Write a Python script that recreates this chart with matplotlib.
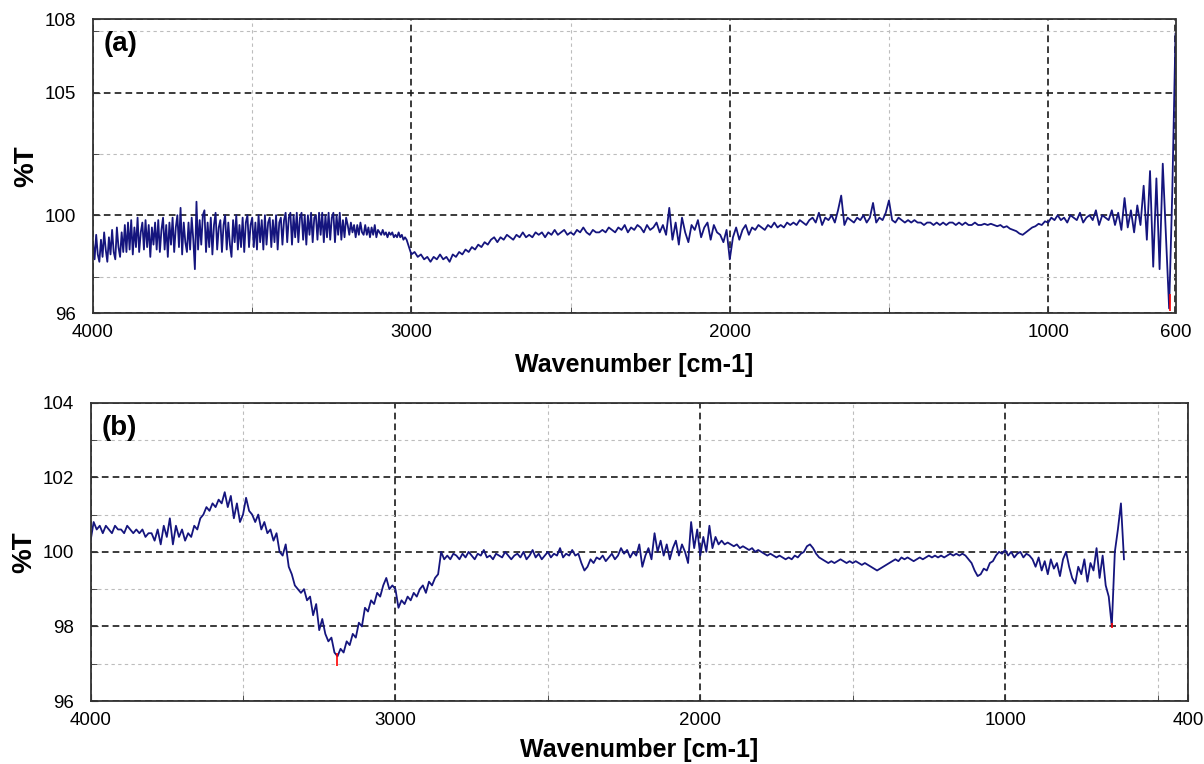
import numpy as np
import matplotlib
matplotlib.use("Agg")
import matplotlib.pyplot as plt
from matplotlib.ticker import FixedLocator

plt.rcParams["font.family"] = ["Liberation Sans", "DejaVu Sans"]

# %% spectrum (a): 4000 -> 3005 read every 5 cm-1, 3000 -> 600 every 10 cm-1
wn_a = np.concatenate([np.arange(4000, 3000, -5), np.arange(3000, 599, -10)])
T_a = [
    # 4000 - 3005 (noisy band)
    98.9, 98.2, 99.2, 98.4, 98.1, 99.0, 98.3, 99.3, 98.6, 98.1, 99.1, 98.4, 99.4, 98.5, 98.2, 99.5, 98.7, 98.3, 99.3, 98.5,
    99.6, 98.5, 99.7, 98.6, 99.8, 98.4, 99.5, 98.7, 99.9, 98.5, 99.3, 99.7, 98.6, 99.8, 98.7, 99.6, 98.3, 99.5, 98.8, 99.7,
    98.6, 99.8, 98.5, 99.4, 99.9, 98.6, 99.6, 98.3, 99.7, 98.8, 99.9, 98.5, 99.5, 100.0, 98.7, 100.3, 98.4, 99.7, 98.9, 98.5,
    99.7, 98.6, 99.9, 99.0, 97.8, 100.55, 98.6, 99.8, 98.8, 100.0, 100.2, 98.5, 99.7, 98.7, 99.9, 98.4, 99.6, 100.1, 98.6, 99.5,
    99.8, 98.5, 99.6, 100.0, 98.6, 99.7, 98.8, 98.3, 99.8, 98.9, 100.0, 98.6, 99.6, 98.7, 99.9, 98.5, 99.7, 100.0, 98.7, 99.6,
    99.9, 98.7, 99.7, 98.6, 100.0, 98.9, 99.8, 98.6, 100.0, 98.8, 99.7, 99.9, 98.7, 99.8, 98.9, 100.0, 98.6, 99.7, 99.9, 98.8,
    99.8, 100.1, 98.9, 99.9, 100.1, 98.8, 100.0, 99.1, 100.1, 98.9, 99.9, 100.1, 99.0, 100.0, 98.8, 100.0, 99.2, 100.1, 98.9, 99.9,
    100.0, 99.0, 100.1, 99.2, 100.1, 98.9, 100.0, 99.1, 100.1, 99.0, 99.9, 100.1, 98.9, 100.0, 99.2, 100.1, 99.0, 99.8, 99.1, 99.9,
    99.6, 99.2, 99.7, 99.3, 99.6, 99.1, 99.6, 99.2, 99.7, 99.3, 99.2, 99.6, 99.2, 99.5, 99.1, 99.5, 99.2, 99.6, 99.1, 99.4,
    99.3, 99.2, 99.4, 99.2, 99.3, 99.1, 99.3, 99.2, 99.3, 99.1, 99.2, 99.1, 99.3, 99.1, 99.2, 99.0, 99.1, 99.0, 98.8, 98.6,
    # 3000 - 600
    98.4, 98.5, 98.3, 98.4, 98.2, 98.3, 98.1, 98.3, 98.2, 98.4, 98.2, 98.3, 98.1, 98.4, 98.3, 98.5, 98.4, 98.6, 98.5, 98.7,
    98.6, 98.8, 98.7, 98.9, 98.8, 99.0, 99.1, 98.9, 99.1, 99.0, 99.2, 99.1, 99.0, 99.2, 99.1, 99.3, 99.1, 99.2, 99.1, 99.3,
    99.2, 99.3, 99.1, 99.3, 99.2, 99.4, 99.2, 99.3, 99.4, 99.2, 99.3, 99.2, 99.4, 99.3, 99.5, 99.3, 99.2, 99.4, 99.3, 99.3,
    99.4, 99.3, 99.5, 99.4, 99.3, 99.5, 99.4, 99.6, 99.3, 99.5, 99.4, 99.6, 99.5, 99.3, 99.6, 99.4, 99.5, 99.7, 99.3, 99.6,
    99.2, 100.3, 99.0, 99.7, 98.8, 99.9, 99.3, 98.9, 99.6, 99.4, 99.8, 99.1, 99.5, 99.7, 99.0, 99.6, 99.3, 99.2, 98.9, 99.4,
    98.2, 99.1, 99.5, 99.0, 99.4, 99.6, 99.2, 99.5, 99.4, 99.6, 99.5, 99.4, 99.6, 99.5, 99.7, 99.5, 99.6, 99.5, 99.7, 99.6,
    99.7, 99.6, 99.8, 99.7, 99.6, 99.8, 99.9, 99.7, 100.1, 99.6, 99.9, 99.8, 100.0, 99.7, 100.2, 100.8, 99.6, 99.9, 99.8, 99.7,
    99.9, 99.8, 100.0, 99.7, 99.9, 100.5, 99.7, 99.9, 99.8, 100.1, 100.6, 99.8, 99.7, 99.9, 99.8, 99.7, 99.8, 99.7, 99.8, 99.7,
    99.7, 99.6, 99.7, 99.7, 99.6, 99.7, 99.6, 99.7, 99.6, 99.7, 99.7, 99.6, 99.7, 99.6, 99.7, 99.6, 99.6, 99.7, 99.6, 99.6,
    99.65, 99.6, 99.65, 99.6, 99.55, 99.6, 99.5, 99.55, 99.45, 99.4, 99.35, 99.25, 99.2, 99.3, 99.4, 99.5, 99.55, 99.65, 99.6, 99.75,
    99.7, 99.9, 99.8, 100.0, 99.8, 99.9, 99.7, 100.0, 99.9, 99.8, 100.1, 99.7, 99.9, 100.0, 99.8, 100.2, 99.6, 100.0, 99.9, 99.8,
    100.2, 99.6, 100.1, 99.4, 100.7, 99.5, 100.2, 99.3, 100.4, 99.6, 101.2, 99.0, 101.8, 97.9, 101.5, 97.8, 102.1, 99.2, 96.2, 101.0,
    107.4,
]
pick_a_wn = [618]
pick_a_lo = [96.1]
pick_a_hi = [96.8]

# %% spectrum (b): 4000 -> 610 cm-1, read every 10 cm-1
wn_b = np.arange(4000, 609, -10)
T_b = [
    100.3, 100.8, 100.6, 100.7, 100.5, 100.7, 100.6, 100.5, 100.7, 100.6, 100.6, 100.5, 100.7, 100.6, 100.5, 100.6, 100.5, 100.6, 100.4, 100.5,
    100.5, 100.3, 100.6, 100.2, 100.7, 100.4, 100.9, 100.2, 100.7, 100.4, 100.6, 100.3, 100.5, 100.4, 100.7, 100.6, 100.9, 101.0, 101.2, 101.1,
    101.3, 101.2, 101.4, 101.3, 101.6, 101.2, 101.5, 100.9, 101.3, 100.8, 101.0, 101.45, 101.1, 101.0, 100.8, 101.0, 100.6, 100.8, 100.5, 100.6,
    100.3, 100.5, 100.0, 99.9, 100.2, 99.6, 99.4, 99.1, 99.0, 98.9, 99.0, 98.7, 98.8, 98.3, 98.6, 97.9, 98.2, 97.8, 97.6, 97.7,
    97.3, 97.2, 97.4, 97.3, 97.6, 97.5, 97.8, 97.7, 98.1, 98.0, 98.5, 98.4, 98.7, 98.6, 98.9, 98.8, 99.1, 99.3, 99.0, 99.1,
    99.0, 98.5, 98.7, 98.6, 98.8, 98.7, 98.9, 98.8, 99.0, 99.1, 98.9, 99.2, 99.1, 99.3, 99.4, 100.0, 99.8, 99.9, 99.8, 99.95,
    99.9, 99.8, 99.95, 99.85, 100.0, 99.9, 99.8, 99.95, 99.9, 100.05, 99.85, 99.9, 99.8, 99.95, 99.9, 99.85, 100.0, 99.9, 99.8, 99.9,
    99.95, 99.85, 100.0, 99.8, 99.9, 100.05, 99.85, 99.95, 99.8, 99.9, 100.0, 99.85, 99.95, 99.9, 100.1, 99.85, 99.95, 99.9, 100.05, 99.9,
    99.95, 99.7, 99.5, 99.6, 99.8, 99.7, 99.85, 99.8, 99.9, 99.75, 99.85, 99.95, 99.8, 99.9, 100.1, 99.95, 100.05, 99.85, 100.0, 99.9,
    100.2, 99.6, 99.9, 100.1, 99.8, 100.5, 100.0, 100.3, 99.9, 100.2, 99.8, 100.1, 100.3, 99.9, 100.2, 100.0, 99.7, 100.8, 100.1, 100.6,
    99.9, 100.4, 100.0, 100.7, 100.1, 100.4, 100.2, 100.3, 100.2, 100.25, 100.2, 100.15, 100.2, 100.1, 100.15, 100.1, 100.05, 100.1, 100.0, 100.05,
    100.0, 99.95, 99.9, 99.95, 99.9, 99.85, 99.9, 99.85, 99.8, 99.85, 99.8, 99.9, 99.85, 99.95, 100.0, 100.15, 100.2, 100.1, 99.95, 99.85,
    99.8, 99.75, 99.7, 99.75, 99.7, 99.75, 99.8, 99.75, 99.7, 99.75, 99.7, 99.75, 99.7, 99.65, 99.7, 99.65, 99.6, 99.55, 99.5, 99.55,
    99.6, 99.65, 99.7, 99.75, 99.8, 99.75, 99.85, 99.8, 99.85, 99.8, 99.75, 99.8, 99.85, 99.8, 99.85, 99.9, 99.85, 99.9, 99.85, 99.9,
    99.85, 99.9, 99.95, 99.9, 99.95, 99.9, 99.95, 99.9, 99.8, 99.7, 99.5, 99.35, 99.4, 99.55, 99.5, 99.7, 99.75, 99.9, 100.0, 99.95,
    100.05, 99.9, 100.0, 99.85, 99.95, 100.0, 99.85, 99.95, 99.9, 99.8, 99.6, 99.85, 99.5, 99.75, 99.4, 99.8, 99.55, 99.7, 99.35, 99.8,
    100.0, 99.6, 99.3, 99.15, 99.6, 99.4, 99.8, 99.2, 99.7, 99.5, 100.1, 99.3, 99.9, 99.1, 98.8, 98.0, 100.0, 100.6, 101.3, 99.8,
]
pick_b_wn = [3193, 648]
pick_b_lo = [96.95, 97.95]
pick_b_hi = [97.3, 98.1]

line_col = "#15157e"


def style(ax, xlim, xmaj, xmin, ylim, ymaj, ymin, tag):
    ax.set_xlim(*xlim)
    ax.set_ylim(*ylim)
    ax.xaxis.set_major_locator(FixedLocator(xmaj))
    ax.xaxis.set_minor_locator(FixedLocator(xmin))
    ax.yaxis.set_major_locator(FixedLocator(ymaj))
    ax.yaxis.set_minor_locator(FixedLocator(ymin))
    ax.grid(which="major", color="#1a1a1a", linestyle=(0, (4, 2.5)), lw=1.2)
    ax.grid(which="minor", color="#bdbdbd", linestyle=(0, (3, 3)), lw=0.8)
    ax.set_axisbelow(True)
    ax.tick_params(which="both", direction="in", labelsize=13.5, color="#333333")
    ax.tick_params(which="major", length=5)
    ax.tick_params(which="minor", length=4)
    ax.tick_params(axis="x", pad=8)
    ax.tick_params(axis="y", pad=12)
    for sp in ax.spines.values():
        sp.set_linewidth(1.3)
        sp.set_color("#333333")
    ax.set_xlabel("Wavenumber [cm-1]", fontsize=18, fontweight="bold")
    ax.set_ylabel("%T", fontsize=20, fontweight="bold")
    ax.text(0.01, 0.915, tag, transform=ax.transAxes, fontsize=20,
            fontweight="bold", ha="left", va="center")


fig = plt.figure(figsize=(12.04, 7.64), dpi=100)
ax_a = fig.add_axes([93 / 1204, 1 - 313.3 / 764, (1175.5 - 93) / 1204, (313.3 - 19) / 764])
ax_b = fig.add_axes([90.6 / 1204, 1 - 701 / 764, (1188 - 90.6) / 1204, (701 - 402.7) / 764])

ax_a.plot(wn_a, T_a, color=line_col, lw=1.3)
ax_a.vlines(pick_a_wn, pick_a_lo, pick_a_hi, color="red", lw=1.2)
style(ax_a, (4000, 600), [4000, 3000, 2000, 1000, 600], [3500, 2500, 1500],
      (96, 108), [96, 100, 105, 108], [97.5, 102.5, 107.5], "(a)")
ax_a.xaxis.set_label_coords(0.5, -0.135)
ax_a.yaxis.set_label_coords(-0.05, 0.5)

ax_b.plot(wn_b, T_b, color=line_col, lw=1.3)
ax_b.vlines(pick_b_wn, pick_b_lo, pick_b_hi, color="red", lw=1.2)
style(ax_b, (4000, 400), [4000, 3000, 2000, 1000, 400], [3500, 2500, 1500, 500],
      (96, 104), [96, 98, 100, 102, 104], [97, 99, 101, 103], "(b)")
ax_b.xaxis.set_label_coords(0.5, -0.125)
ax_b.yaxis.set_label_coords(-0.049, 0.5)

fig.savefig("out.png", dpi=100)
